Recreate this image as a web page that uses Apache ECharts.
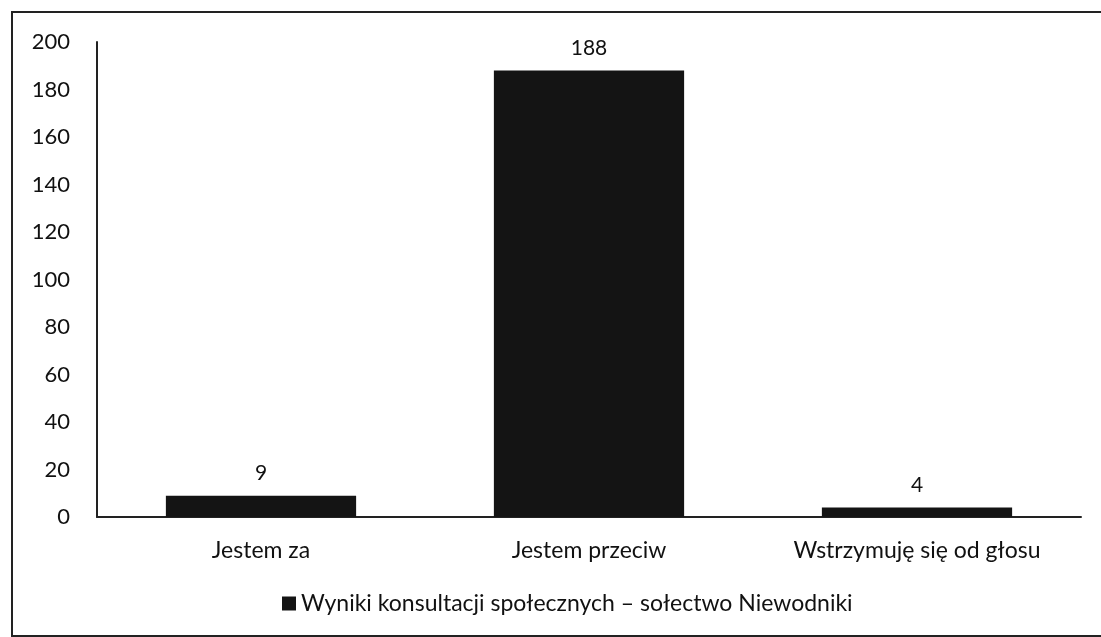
<!DOCTYPE html>
<html>
<head>
<meta charset="utf-8">
<script src="https://cdn.jsdelivr.net/npm/echarts@6/dist/echarts.min.js"></script>
<style>
  html, body { margin: 0; padding: 0; background: #fff; }
  #chart { width: 1101px; height: 637px; }
</style>
</head>
<body>
<div id="chart"></div>
<script>
// values
const categories = ['Jestem za', 'Jestem przeciw', 'Wstrzymuję się od głosu'];
const votes = [9, 188, 4];
const seriesName = 'Wyniki konsultacji społecznych – sołectwo Niewodniki';
const yMin = 0, yMax = 200, yStep = 20;

const font = 'Lato, "Open Sans", sans-serif';
const ink = '#111';

let chart = echarts.init(document.getElementById('chart'));
chart.setOption({
  animation: false,
  backgroundColor: '#fff',
  textStyle: { fontFamily: font },
  graphic: [
    {
      // scanned frame: only top and left edges are inside the picture
      type: 'rect',
      shape: { x: 12, y: 12, width: 1100, height: 624 },
      style: { fill: 'none', stroke: '#222', lineWidth: 2 },
      silent: true
    }
  ],
  grid: { left: 97, right: 20, top: 42, bottom: 120, containLabel: false },
  legend: {
    bottom: 17,
    left: 277,
    itemWidth: 14,
    itemHeight: 14,
    itemGap: 6,
    icon: 'rect',
    textStyle: { fontSize: 23, color: ink, fontFamily: font },
    data: [seriesName]
  },
  xAxis: {
    type: 'category',
    data: categories,
    axisLine: { lineStyle: { color: '#222', width: 2 } },
    axisTick: { show: false },
    axisLabel: { fontSize: 23, color: ink, margin: 22, fontFamily: font }
  },
  yAxis: {
    type: 'value',
    min: yMin,
    max: yMax,
    interval: yStep,
    axisLine: { show: true, lineStyle: { color: '#222', width: 2 } },
    axisTick: { show: false },
    splitLine: { show: false },
    axisLabel: { fontSize: 22, color: ink, margin: 27, fontFamily: font }
  },
  series: [
    {
      name: seriesName,
      type: 'bar',
      data: votes,
      barWidth: '58%',
      itemStyle: { color: '#141414' },
      label: {
        show: true,
        position: 'top',
        distance: 12,
        fontSize: 21,
        color: ink,
        fontFamily: font
      }
    }
  ]
});
</script>
</body>
</html>
